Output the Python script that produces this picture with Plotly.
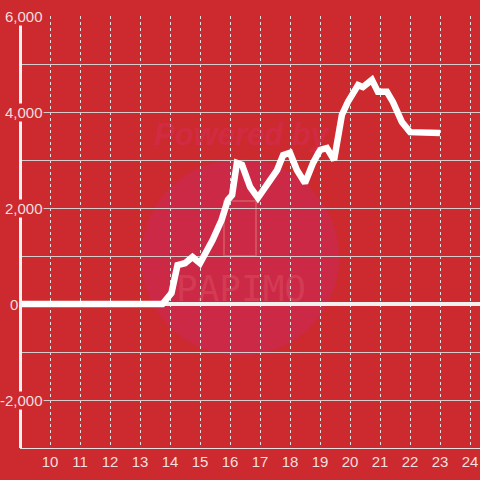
import plotly.graph_objects as go

# ---- data ----
hours = [9.0, 13.75, 14.05, 14.25, 14.5, 14.75, 15.0, 15.42, 15.72, 15.93, 16.07,
         16.23, 16.4, 16.67, 16.93, 17.27, 17.57, 17.77, 18.0, 18.23, 18.5, 18.77,
         19.0, 19.23, 19.47, 19.73, 19.93, 20.27, 20.43, 20.73, 20.93, 21.23, 21.43,
         21.73, 22.0, 23.0]
values = [0, 0, 230, 810, 850, 980, 850, 1330, 1750, 2170, 2270,
          2940, 2900, 2440, 2210, 2520, 2790, 3100, 3150, 2790, 2520, 2940,
          3210, 3250, 3000, 3940, 4210, 4560, 4520, 4670, 4420, 4420, 4210,
          3790, 3580, 3560]
x_ticks = list(range(10, 25))
y_label_vals = [6000, 4000, 2000, 0, -2000]
y_label_text = ["6,000", "4,000", "2,000", "0", "-2,000"]

BG = "#cc2a2e"
TXT = "#f4dede"
FONT = "Liberation Sans, Arial, sans-serif"

fig = go.Figure()
fig.add_trace(go.Scatter(x=hours, y=values, mode="lines",
                         line=dict(color="#ffffff", width=6.5),
                         hoverinfo="skip", showlegend=False))

W, H = 480, 480
ml, mr, mt, mb = 20, 0, 16, 32
pw = W - ml - mr
ph = H - mt - mb

def px_x(p):
    return (p - ml) / pw

def px_y(p):
    return (H - mb - p) / ph

shapes = [
    # watermark circle
    dict(type="circle", xref="paper", yref="paper",
         x0=px_x(141), x1=px_x(339), y0=px_y(356), y1=px_y(159),
         fillcolor="#cc2947", line=dict(width=0), layer="below"),
    # watermark phone outline
    dict(type="rect", xref="paper", yref="paper",
         x0=px_x(224), x1=px_x(256), y0=px_y(256), y1=px_y(201),
         line=dict(color="#d2505e", width=2), layer="below"),
    # y axis line
    dict(type="line", xref="paper", yref="paper",
         x0=px_x(20.5), x1=px_x(20.5), y0=0, y1=1,
         line=dict(color="#f2f2f2", width=3), layer="above"),
]

annotations = [
    dict(text="<b><i>Powered by</i></b>", xref="paper", yref="paper",
         x=px_x(242), y=px_y(134), xanchor="center", yanchor="middle",
         showarrow=False, font=dict(family=FONT, size=31, color="rgba(215,45,95,0.45)")),
    dict(text="PAPIMO", xref="paper", yref="paper",
         x=px_x(241), y=px_y(288), xanchor="center", yanchor="middle",
         showarrow=False, font=dict(family="DejaVu Sans Mono, monospace", size=36,
                                    color="rgba(225,95,110,0.35)")),
]
for v, t in zip(y_label_vals, y_label_text):
    if t == "0":
        annotations.append(dict(text=t, xref="paper", yref="y", x=px_x(7.5), y=v,
                                xanchor="left", yanchor="middle", showarrow=False,
                                font=dict(family=FONT, size=15, color=TXT)))
    else:
        annotations.append(dict(text=t, xref="paper", yref="y", x=px_x(44), y=v,
                                xanchor="right", yanchor="middle", showarrow=False,
                                bgcolor=BG, borderpad=0,
                                font=dict(family=FONT, size=15, color=TXT)))

fig.update_layout(
    width=W, height=H,
    margin=dict(l=ml, r=mr, t=mt, b=mb, autoexpand=False),
    paper_bgcolor=BG, plot_bgcolor=BG,
    showlegend=False,
    hovermode=False,
    shapes=shapes,
    annotations=annotations,
    xaxis=dict(range=[9.0, 9.0 + pw / 30.0], tickmode="array", tickvals=x_ticks,
               ticktext=[str(t) for t in x_ticks], automargin=False,
               showgrid=True, gridcolor="#e8e0e0", gridwidth=1, griddash="3px,3px",
               showline=True, linecolor="#e6e0e0", linewidth=1,
               zeroline=False, ticks="",
               tickfont=dict(family=FONT, size=15, color=TXT)),
    yaxis=dict(range=[-3000, 6000], dtick=1000, tick0=0, showticklabels=False,
               automargin=False,
               showgrid=True, gridcolor="#d6cccc", gridwidth=1,
               zeroline=True, zerolinecolor="#f4f0f0", zerolinewidth=4,
               showline=False, ticks=""),
)

fig.write_html("out.html",
               config={"displayModeBar": False, "staticPlot": True},
               post_script="document.documentElement.style.margin='0';"
                           "document.body.style.margin='0';"
                           "document.body.style.background='" + BG + "';")
